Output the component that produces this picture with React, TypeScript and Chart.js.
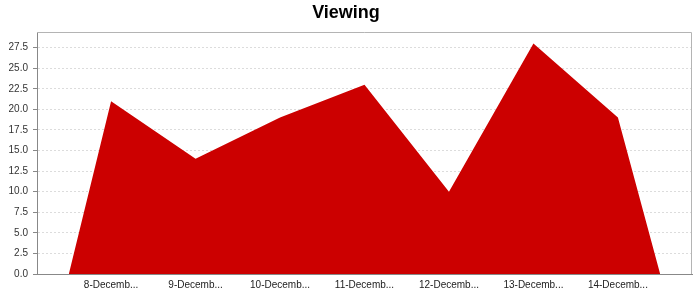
import React, { useEffect, useRef } from "react";
import { Chart, registerables } from "chart.js";

Chart.register(...registerables);

const categories = ["8-December", "9-December", "10-December", "11-December", "12-December", "13-December", "14-December"];
const tickLabels = ["8-Decemb...", "9-Decemb...", "10-Decemb...", "11-Decemb...", "12-Decemb...", "13-Decemb...", "14-Decemb..."];
const viewing = [21, 14, 19, 23, 10, 28, 19];
const yMax = 29.4;
const yStep = 2.5;

const plotBorder = {
  id: "plotBorder",
  afterDatasetsDraw(chart: any) {
    const { ctx, chartArea } = chart;
    ctx.save();
    ctx.strokeStyle = "#b4b4b4";
    ctx.lineWidth = 1;
    ctx.beginPath();
    ctx.moveTo(chartArea.left, chartArea.top + 0.5);
    ctx.lineTo(chartArea.right - 0.5, chartArea.top + 0.5);
    ctx.lineTo(chartArea.right - 0.5, chartArea.bottom);
    ctx.stroke();
    ctx.restore();
  },
};

export default function App() {
  const ref = useRef<HTMLCanvasElement>(null);
  useEffect(() => {
    document.body.style.margin = "0";
    const n = viewing.length;
    // AreaRenderer "taper" ends: area falls to zero half a category beyond the first/last category
    const points = [
      { x: -0.5, y: 0 },
      ...viewing.map((v, i) => ({ x: i, y: v })),
      { x: n - 0.5, y: 0 },
    ];
    const chart = new Chart(ref.current as HTMLCanvasElement, {
      type: "line",
      data: {
        datasets: [
          {
            label: "Viewing",
            data: points,
            fill: "origin",
            backgroundColor: "#cc0000",
            borderColor: "#cc0000",
            borderWidth: 0,
            pointRadius: 0,
            tension: 0,
          },
        ],
      },
      options: {
        animation: false,
        responsive: false,
        layout: { padding: { left: 0, right: 8, top: 0, bottom: 0 } },
        plugins: {
          legend: { display: false },
          tooltip: { enabled: false },
          title: {
            display: true,
            text: "Viewing",
            color: "#000",
            font: { family: "'Liberation Sans', Arial, sans-serif", size: 18, weight: "bold" },
            padding: { top: 2, bottom: 8.4 },
          },
        },
        scales: {
          x: {
            type: "linear",
            min: -0.877,
            max: n - 1 + 0.877,
            afterBuildTicks: (scale: any) => {
              scale.ticks = categories.map((_, i) => ({ value: i }));
            },
            afterFit: (scale: any) => {
              scale.height = 26;
            },
            grid: { display: false, drawTicks: false },
            border: { display: true, color: "#888" },
            ticks: {
              autoSkip: false,
              maxRotation: 0,
              padding: 5,
              color: "#222",
              font: { family: "'Liberation Sans', Arial, sans-serif", size: 10 },
              callback: (v: any) => tickLabels[Math.round(Number(v))] ?? "",
            },
          },
          y: {
            min: 0,
            max: yMax,
            afterBuildTicks: (scale: any) => {
              const t: any[] = [];
              for (let v = 0; v <= yMax + 1e-9; v += yStep) t.push({ value: v });
              scale.ticks = t;
            },
            afterFit: (scale: any) => {
              scale.width = 37;
            },
            grid: {
              color: "#dcdcdc",
              tickColor: "#888",
              tickLength: 4,
              tickBorderDash: [],
              drawTicks: true,
            },
            border: { display: true, color: "#888", dash: [2, 2] },
            ticks: {
              padding: 5,
              color: "#333",
              font: { family: "'Liberation Sans', Arial, sans-serif", size: 10 },
              callback: (v: any) => Number(v).toFixed(1),
            },
          },
        },
      },
      plugins: [plotBorder],
    });
    return () => chart.destroy();
  }, []);
  return <canvas ref={ref} width={700} height={300} style={{ display: "block" }} />;
}
